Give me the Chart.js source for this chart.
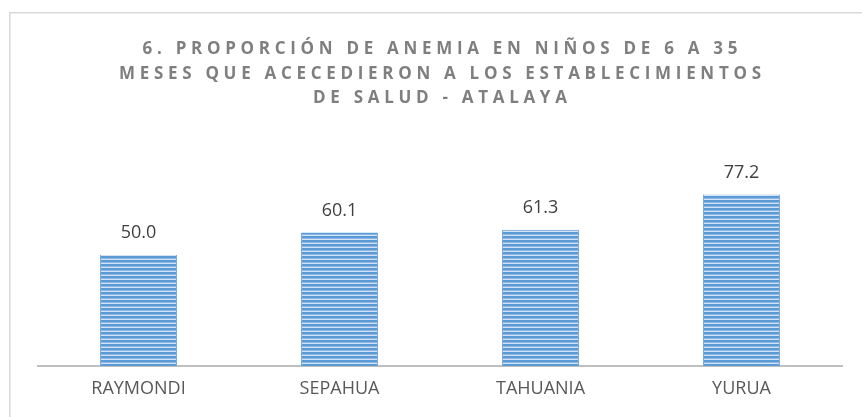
<!DOCTYPE html>
<html>
<head>
<meta charset="utf-8">
<script src="https://cdn.jsdelivr.net/npm/chart.js@4/dist/chart.umd.min.js"></script>
<style>
  html, body { margin: 0; padding: 0; background: #fff; overflow: hidden; }
  #wrap { position: relative; width: 862px; height: 417px; }
  #title {
    position: absolute; left: 0; top: 36px; width: 880px;
    text-align: center; font-family: "Open Sans", sans-serif; font-weight: 700;
    font-size: 17px; line-height: 24.5px; color: #7f7f7f; letter-spacing: 4.7px;
    padding-left: 4.7px; box-sizing: border-box; white-space: nowrap;
  }
  canvas { position: absolute; left: 0; top: 0; }
</style>
</head>
<body>
<div id="wrap">
  <canvas id="c" width="862" height="417"></canvas>
  <div id="title">6. PROPORCIÓN DE ANEMIA EN NIÑOS DE 6 A 35<br>MESES QUE ACECEDIERON A LOS ESTABLECIMIENTOS<br>DE SALUD - ATALAYA</div>
</div>
<script>
const categories = ["RAYMONDI", "SEPAHUA", "TAHUANIA", "YURUA"];
const anemiaValues = [50.0, 60.1, 61.3, 77.2];
const yMin = 0;
const yMax = 90;

function makeStripePattern() {
  const p = document.createElement('canvas');
  p.width = 4; p.height = 4;
  const g = p.getContext('2d');
  const rows = ['#5b9bd5', '#5b9bd5', '#8db8e6', '#d3e3f5'];
  rows.forEach((c, i) => { g.fillStyle = c; g.fillRect(0, i, 4, 1); });
  return document.getElementById('c').getContext('2d').createPattern(p, 'repeat');
}

const frameBorder = {
  id: 'frameBorder',
  beforeDraw(chart) {
    const ctx = chart.ctx;
    ctx.save();
    ctx.strokeStyle = '#d9d9d9';
    ctx.lineWidth = 1.5;
    ctx.strokeRect(9.75, 12.75, 900, 500);
    ctx.restore();
  }
};

const valueLabels = {
  id: 'valueLabels',
  afterDatasetsDraw(chart) {
    const ctx = chart.ctx;
    const meta = chart.getDatasetMeta(0);
    ctx.save();
    ctx.font = '18px "Open Sans", sans-serif';
    ctx.fillStyle = '#404040';
    ctx.textAlign = 'center';
    ctx.textBaseline = 'middle';
    meta.data.forEach((bar, i) => {
      ctx.fillText(chart.data.datasets[0].data[i].toFixed(1), bar.x, bar.y - 22);
    });
    ctx.restore();
  }
};

new Chart(document.getElementById('c'), {
  type: 'bar',
  data: {
    labels: categories,
    datasets: [{
      data: anemiaValues,
      backgroundColor: makeStripePattern(),
      borderColor: '#79ace0',
      borderWidth: { left: 1, right: 1, top: 0, bottom: 0 },
      categoryPercentage: 1,
      barPercentage: 0.383
    }]
  },
  options: {
    responsive: false,
    animation: false,
    devicePixelRatio: 1,
    layout: { padding: { left: 38, right: 20, top: 166, bottom: 0 } },
    plugins: { legend: { display: false }, title: { display: false }, tooltip: { enabled: false } },
    scales: {
      y: { display: false, min: yMin, max: yMax },
      x: {
        grid: { display: false, drawTicks: false },
        border: { display: true, color: '#bfbfbf', width: 2 },
        ticks: { color: '#595959', font: { family: '"Open Sans", sans-serif', size: 18 }, padding: 12 },
        afterFit(scale) { scale.height = 51; }
      }
    }
  },
  plugins: [frameBorder, valueLabels]
});
</script>
</body>
</html>
